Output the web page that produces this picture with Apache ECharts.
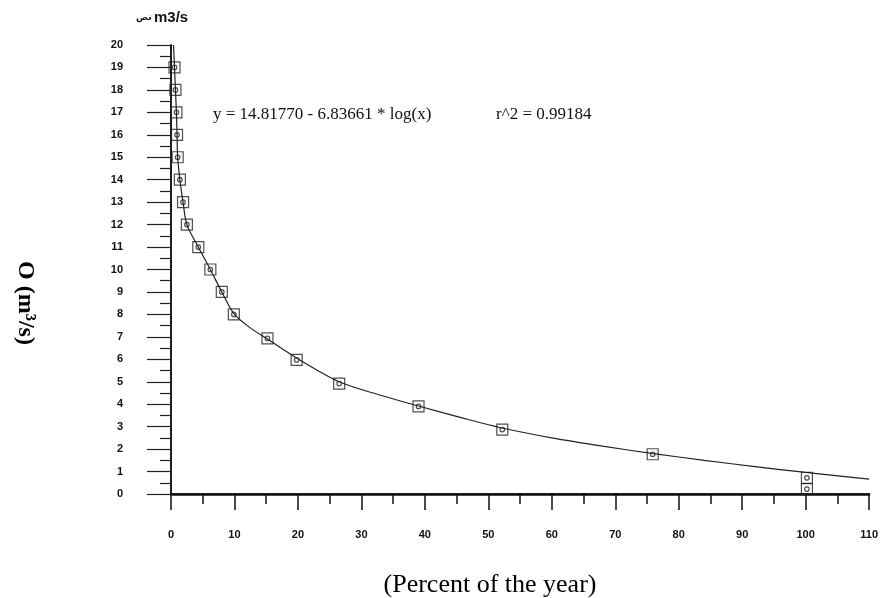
<!DOCTYPE html>
<html>
<head>
<meta charset="utf-8">
<script src="https://cdn.jsdelivr.net/npm/echarts@6/dist/echarts.min.js"></script>
<style>
  html, body { margin: 0; padding: 0; background: #fff; }
  #chart { width: 881px; height: 598px; }
</style>
</head>
<body>
<div id="chart"></div>
<script>
// Observed data points (percent of year, discharge m3/s)
const pointX = [0.55, 0.7, 0.85, 0.95, 1.05, 1.4, 1.9, 2.5, 4.3, 6.2, 8.0, 9.9, 15.2, 19.8, 26.5, 39.0, 52.2, 75.9, 100.2, 100.2];
const pointY = [19, 18, 17, 16, 15, 14, 13, 12, 11, 10, 9, 8, 6.93, 5.97, 4.92, 3.9, 2.87, 1.77, 0.72, 0.22];

// Fitted curve
const curveX = [0.4, 0.55, 0.7, 0.85, 0.95, 1.05, 1.4, 1.9, 2.5, 4.3, 6.2, 8.0, 10.0, 12.5, 15.2, 20.0, 26.5, 33, 39, 46, 52, 60, 68, 76, 84, 92, 100, 110];
const curveY = [20, 19, 18, 17, 16, 15, 14, 13, 12, 11, 10, 9.0, 8.0, 7.4, 6.9, 6.02, 5.0, 4.4, 3.92, 3.38, 2.95, 2.5, 2.13, 1.8, 1.5, 1.22, 0.96, 0.66];

// Axis settings
const xMin = 0, xMax = 110, xStep = 10;
const yMin = 0, yMax = 20, yStep = 1;

const eqText = 'y = 14.81770 - 6.83661 * log(x)';
const r2Text = 'r^2 = 0.99184';
const unitText = 'm3/s';
const unitArabic = 'نص';
const yTitle = 'O (m³/s)';
const xTitle = '(Percent of the year)';

const pts = pointX.map((x, i) => [x, pointY[i]]);
const curve = curveX.map((x, i) => [x, curveY[i]]);

const chart = echarts.init(document.getElementById('chart'));
const tickFont = { fontFamily: '"Liberation Sans", Arial, sans-serif', fontWeight: 'bold', fontSize: 11, color: '#111' };

chart.setOption({
  animation: false,
  backgroundColor: '#fff',
  grid: { left: 171, right: 8, top: 45, bottom: 104 },
  xAxis: [{
    type: 'value', min: xMin, max: xMax, interval: xStep,
    axisLine: { show: true, onZero: false, lineStyle: { color: '#111', width: 1.5 } },
    axisTick: { show: true, length: 16, inside: false, lineStyle: { color: '#111', width: 1.5 } },
    minorTick: { show: true, splitNumber: 2, length: 10, lineStyle: { color: '#111', width: 1.5 } },
    axisLabel: Object.assign({ margin: 35 }, tickFont),
    splitLine: { show: false }
  }, {
    type: 'value', position: 'top', min: xMin, max: xMax,
    axisLine: { show: true, lineStyle: { color: '#111', width: 2.5 } },
    axisTick: { show: false }, axisLabel: { show: false }, splitLine: { show: false }
  }],
  yAxis: [{
    type: 'value', min: yMin, max: yMax, interval: yStep,
    axisLine: { show: true, onZero: false, lineStyle: { color: '#111', width: 1.5 } },
    axisTick: { show: true, length: 24, lineStyle: { color: '#222', width: 1.2 } },
    minorTick: { show: true, splitNumber: 2, length: 11, lineStyle: { color: '#222', width: 1.2 } },
    axisLabel: Object.assign({ margin: 48 }, tickFont),
    splitLine: { show: false }
  }, {
    type: 'value', position: 'right', min: yMin, max: yMax,
    axisLine: { show: true, lineStyle: { color: '#111', width: 1.5 } },
    axisTick: { show: false }, axisLabel: { show: false }, splitLine: { show: false }
  }],
  series: [{
    type: 'line', data: curve, smooth: 0.3, showSymbol: false,
    lineStyle: { color: '#222', width: 1.2 }, z: 2
  }, {
    type: 'scatter', data: pts, symbol: 'rect', symbolSize: 11,
    itemStyle: { color: 'rgba(255,255,255,0)', borderColor: '#222', borderWidth: 1.2 }, z: 3
  }, {
    type: 'scatter', data: pts, symbol: 'circle', symbolSize: 4.5,
    itemStyle: { color: 'rgba(255,255,255,0)', borderColor: '#222', borderWidth: 1.2 }, z: 4
  }],
  graphic: [
    { type: 'text', left: 213, top: 106, style: { text: eqText, font: '17px "Liberation Serif", "Times New Roman", serif', fill: '#111' } },
    { type: 'text', left: 496, top: 106, style: { text: r2Text, font: '17px "Liberation Serif", "Times New Roman", serif', fill: '#111' } },
    { type: 'text', left: 154, top: 10, style: { text: unitText, font: 'bold 15px "Liberation Sans", Arial, sans-serif', fill: '#111' } },
    { type: 'text', left: 136, top: 13, style: { text: unitArabic, font: 'bold 9px "DejaVu Sans", sans-serif', fill: '#111' } },
    { type: 'text', x: 25, y: 303, rotation: -Math.PI / 2,
      style: { text: yTitle, font: 'bold 24px "Liberation Serif", "Times New Roman", serif', fill: '#000', textAlign: 'center', textVerticalAlign: 'middle' } },
    { type: 'text', x: 490, y: 585,
      style: { text: xTitle, font: '26px "Liberation Serif", "Times New Roman", serif', fill: '#000', textAlign: 'center', textVerticalAlign: 'middle' } }
  ]
});
</script>
</body>
</html>
